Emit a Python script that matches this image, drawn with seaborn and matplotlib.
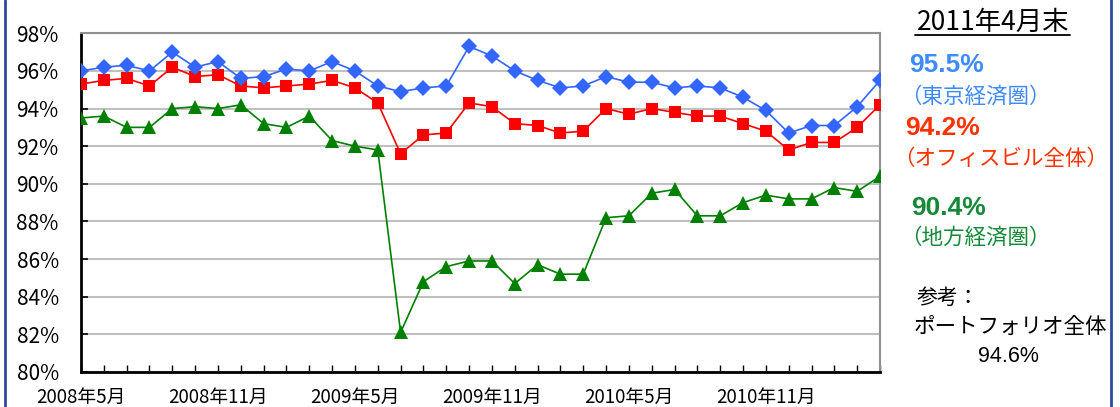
import matplotlib
matplotlib.use("Agg")
import matplotlib.pyplot as plt
import seaborn as sns
import pandas as pd
import numpy as np
from matplotlib.lines import Line2D

sns.set_theme(style="white")
plt.rcParams['font.family'] = ['Noto Sans CJK JP', 'DejaVu Sans']

# ---- data ----
months = list(range(36))  # 2008年5月 .. 2011年4月
tick_idx = [0, 6, 12, 18, 24, 30]
tick_labels = ["2008年5月", "2008年11月", "2009年5月", "2009年11月", "2010年5月", "2010年11月"]

tokyo = [96.0, 96.2, 96.3, 96.0, 97.0, 96.2, 96.5, 95.6, 95.7, 96.1, 96.0, 96.5,
         96.0, 95.2, 94.9, 95.1, 95.2, 97.3, 96.8, 96.0, 95.5, 95.1, 95.2, 95.7,
         95.4, 95.4, 95.1, 95.2, 95.1, 94.6, 93.9, 92.7, 93.1, 93.1, 94.1, 95.5]
office = [95.3, 95.5, 95.6, 95.2, 96.2, 95.7, 95.8, 95.2, 95.1, 95.2, 95.3, 95.5,
          95.1, 94.3, 91.6, 92.6, 92.7, 94.3, 94.1, 93.2, 93.1, 92.7, 92.8, 94.0,
          93.7, 94.0, 93.8, 93.6, 93.6, 93.2, 92.8, 91.8, 92.2, 92.2, 93.0, 94.2]
region = [93.5, 93.6, 93.0, 93.0, 94.0, 94.1, 94.0, 94.2, 93.2, 93.0, 93.6, 92.3,
          92.0, 91.8, 82.1, 84.8, 85.6, 85.9, 85.9, 84.7, 85.7, 85.2, 85.2, 88.2,
          88.3, 89.5, 89.7, 88.3, 88.3, 89.0, 89.4, 89.2, 89.2, 89.8, 89.6, 90.4]

yticks = [80, 82, 84, 86, 88, 90, 92, 94, 96, 98]

series_names = ["東京経済圏", "オフィスビル全体", "地方経済圏"]
df = pd.DataFrame({
    "month": months * 3,
    "rate": tokyo + office + region,
    "series": [series_names[0]] * 36 + [series_names[1]] * 36 + [series_names[2]] * 36,
})

line_colors = {"東京経済圏": "#3366FF", "オフィスビル全体": "#FF0000", "地方経済圏": "#008000"}
markers = {"東京経済圏": "D", "オフィスビル全体": "s", "地方経済圏": "^"}
msize = {"東京経済圏": 8.5, "オフィスビル全体": 9, "地方経済圏": 10}

W, H = 1120, 407
fig = plt.figure(figsize=(W / 100, H / 100), dpi=100)
ax = fig.add_axes([81 / W, 1 - 372 / H, (880 - 81) / W, (372 - 33.3) / H])

# draw in reverse so blue is on top
for name in reversed(series_names):
    sub = df[df["series"] == name]
    sns.lineplot(data=sub, x="month", y="rate", ax=ax, color=line_colors[name],
                 marker=markers[name], markersize=msize[name], markeredgewidth=0,
                 linewidth=1.2, legend=False, zorder=3)

ax.set_xlim(0, 35)
ax.set_ylim(80, 98)
ax.set_xlabel("")
ax.set_ylabel("")

ax.set_yticks(yticks)
ax.set_yticklabels([f"{v}%" for v in yticks], fontsize=15, color="black")
ax.set_xticks(tick_idx)
ax.set_xticklabels(tick_labels, fontsize=13.5, color="black")
ax.set_xticks(months, minor=True)

ax.grid(axis="y", color="#C0C0C0", linewidth=1.5, zorder=0)
ax.grid(axis="x", visible=False)
ax.set_axisbelow(True)

ax.tick_params(axis="y", which="major", direction="in", length=5, width=1.2, color="black", pad=16, left=True)
ax.tick_params(axis="x", which="major", direction="in", length=5, width=1, color="black", pad=11, bottom=True)
ax.tick_params(axis="x", which="minor", direction="in", length=5, width=1, color="black", bottom=True)

for s in ["left", "bottom"]:
    ax.spines[s].set_color("black")
    ax.spines[s].set_linewidth(2)
for s in ["top", "right"]:
    ax.spines[s].set_color("#909090")
    ax.spines[s].set_linewidth(1.5)

# ---- right side annotations ----
def fx(px):
    return px / W

def fy(py):
    return 1 - py / H

fig.text(fx(993), fy(22), "2011年4月末", fontsize=19, ha="center", va="center", color="black")
fig.add_artist(Line2D([fx(915), fx(1070)], [fy(35), fy(35)], color="black", linewidth=1.3))

fig.text(fx(909), fy(65), "95.5%", fontsize=19, fontweight="bold", ha="left", va="center", color="#3D8BFF",
         family=["Liberation Sans", "DejaVu Sans"])
fig.text(fx(900), fy(97), "（東京経済圏）", fontsize=15.5, ha="left", va="center", color="#3D8BFF")
fig.text(fx(905), fy(128), "94.2%", fontsize=19, fontweight="bold", ha="left", va="center", color="#FF3300",
         family=["Liberation Sans", "DejaVu Sans"])
fig.text(fx(893), fy(159), "（オフィスビル全体）", fontsize=15.5, ha="left", va="center", color="#FF3300")
fig.text(fx(911), fy(208), "90.4%", fontsize=19, fontweight="bold", ha="left", va="center", color="#148A38",
         family=["Liberation Sans", "DejaVu Sans"])
fig.text(fx(900), fy(238), "（地方経済圏）", fontsize=15.5, ha="left", va="center", color="#148A38")

fig.text(fx(917), fy(298), "参考：", fontsize=15, ha="left", va="center", color="black")
fig.text(fx(914), fy(327), "ポートフォリオ全体", fontsize=15.5, ha="left", va="center", color="black")
fig.text(fx(1008), fy(356), "94.6%", fontsize=15.5, ha="center", va="center", color="black",
         family=["Liberation Sans", "DejaVu Sans"])

# frame lines at left and right
fig.add_artist(Line2D([fx(5), fx(5)], [0, 1], color="#2B4C9B", linewidth=2))
fig.add_artist(Line2D([fx(1111), fx(1111)], [0, 1], color="#2B4C9B", linewidth=2))

fig.savefig("out.png", dpi=100)
